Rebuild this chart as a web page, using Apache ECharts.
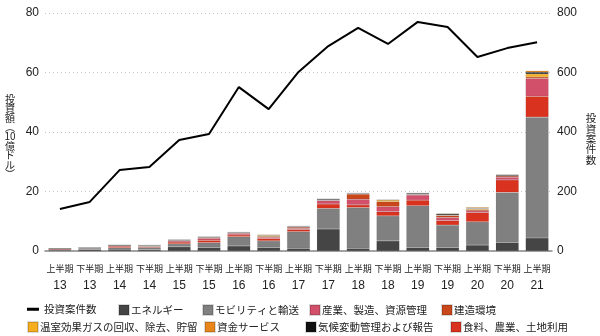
<!DOCTYPE html>
<html><head><meta charset="utf-8">
<script src="https://cdn.jsdelivr.net/npm/echarts@6/dist/echarts.min.js"></script>
<style>html,body{margin:0;padding:0;background:#fff}#c{width:600px;height:336px}</style>
</head><body><div id="c"></div>
<script>
const halves = ['上半期','下半期','上半期','下半期','上半期','下半期','上半期','下半期','上半期','下半期','上半期','下半期','上半期','下半期','上半期','下半期','上半期'];
const years = ['13','13','14','14','15','15','16','16','17','17','18','18','19','19','20','20','21'];
const dealCount = [141,165,272,282,373,393,551,477,602,689,750,696,770,753,652,682,702];
const energy =     [0.2,0.5,0.6,0.4,1.4,1.2,1.7,1.2,0.9,7.4,0.9,3.4,1.2,1.2,2.0,2.8,4.4];
const mobility =   [0.1,0.1,0.5,0.7,1.0,1.6,3.1,2.2,5.6,6.9,13.7,8.4,14.0,7.5,7.8,16.9,40.6];
const food =       [0.3,0.2,0.5,0.3,0.6,0.8,0.6,0.8,0.7,1.5,0.9,1.4,1.9,1.5,3.1,4.2,7.0];
const industry =   [0.1,0.1,0.2,0.2,0.4,0.6,0.5,0.4,0.4,1.1,1.9,1.7,1.7,1.1,0.6,0.9,6.0];
const building =   [0.05,0.1,0.1,0.1,0.2,0.3,0.2,0.3,0.4,0.2,1.7,1.7,0.2,0.6,0.4,0.4,0.5];
const greenhouse = [0.05,0.1,0.05,0.2,0.1,0.1,0.1,0.3,0.1,0.1,0.1,0.5,0.1,0.2,0.3,0.1,1.0];
const climate =    [0,0,0,0,0.05,0.2,0.05,0.1,0.2,0.3,0.2,0.05,0.3,0.4,0.2,0.3,0.6];
const finance =    [0.05,0.05,0.05,0.1,0.05,0.1,0.1,0.2,0.1,0.1,0.1,0.1,0.1,0.2,0.3,0.2,0.5];
const leftTicks = [0,20,40,60,80];
const rightTicks = [0,200,400,600,800];
const leftTitle = ['投','資','額','︵','10','億','ド','ル','︶'];
const rightTitle = ['投','資','案','件','数'];

const names = {
  line:'投資案件数', energy:'エネルギー', mobility:'モビリティと輸送', industry:'産業、製造、資源管理',
  building:'建造環境', greenhouse:'温室効果ガスの回収、除去、貯留', finance:'資金サービス',
  climate:'気候変動管理および報告', food:'食料、農業、土地利用'
};
const colors = {
  energy:'#454545', mobility:'#808080', food:'#d9321f', industry:'#d2506a', building:'#c9471b',
  greenhouse:'#f7ae1e', finance:'#e8861c', climate:'#111111'
};
const FONT = 'Liberation Sans, "Noto Sans CJK JP", sans-serif';
const stackOrder = [
  ['energy',energy],['mobility',mobility],['food',food],['industry',industry],
  ['building',building],['greenhouse',greenhouse],['climate',climate],['finance',finance]
];
const series = stackOrder.map(([k,arr]) => ({
  name: names[k], type:'bar', stack:'total', yAxisIndex:0, barWidth:23,
  itemStyle:{color:colors[k], borderColor:'rgba(0,0,0,0.15)', borderWidth:0.5},
  data: arr
}));
series.push({
  name: names.line, type:'line', yAxisIndex:1, data: dealCount, symbol:'none',
  lineStyle:{color:'#000', width:2}, itemStyle:{color:'#000'}, z:5
});

const LT = {fontSize:10.5, color:'#222', fontFamily:'"Noto Sans CJK JP", sans-serif', padding:[0,0,0,-3]};
function sq(name, left, top){
  return {data:[{name, icon:'rect'}], left, top, itemWidth:10, itemHeight:10, itemGap:0,
    textStyle:LT, selectedMode:false};
}
const legends = [
  {data:[{name:names.line, icon:'rect'}], left:22, top:299, itemWidth:12, itemHeight:3,
   textStyle:Object.assign({}, LT, {padding:[0,0,0,0]}), selectedMode:false},
  sq(names.energy, 113, 299), sq(names.mobility, 197, 299), sq(names.industry, 304, 299), sq(names.building, 436, 299),
  sq(names.greenhouse, 22, 316), sq(names.finance, 199, 316), sq(names.climate, 300, 316), sq(names.food, 445, 316)
];

function vtitle(chars, cx, top, step, size){
  return chars.map((ch,i) => ({
    type:'text', x:cx, y:top + i*step, silent:true,
    style:{text:ch, fill:'#222', fontSize:size, fontFamily:'"Noto Sans CJK JP", sans-serif',
           textAlign:'center', textVerticalAlign:'top', align:'center', verticalAlign:'top'}
  }));
}

const chart = echarts.init(document.getElementById('c'), null, {renderer:'canvas'});
chart.setOption({
  animation:false,
  textStyle:{fontFamily:FONT},
  grid:{left:45, right:48, top:13, bottom:85},
  legend: legends,
  graphic: vtitle(leftTitle, 10, 94, 9.4, 10).concat(vtitle(rightTitle, 591, 113, 10.4, 10.5)),
  xAxis:{
    type:'category', data: halves.map((h,i)=>h+'\n'+years[i]),
    axisLine:{lineStyle:{color:'#888', width:1.5}}, axisTick:{show:false},
    axisLabel:{interval:0, color:'#222', margin:10,
      formatter: v => { const p=v.split('\n'); return '{a|'+p[0]+'}\n{b|'+p[1]+'}'; },
      rich:{a:{fontSize:9, lineHeight:17, fontFamily:FONT, color:'#222'}, b:{fontSize:12, lineHeight:16, fontFamily:FONT, color:'#222'}}}
  },
  yAxis:[
    {type:'value', min:leftTicks[0], max:leftTicks[leftTicks.length-1], interval:20,
     axisLabel:{fontSize:12, color:'#222', margin:6},
     axisLine:{show:false}, axisTick:{show:false},
     splitLine:{lineStyle:{type:[1,3], color:'#c4c4c4'}}},
    {type:'value', min:rightTicks[0], max:rightTicks[rightTicks.length-1], interval:200,
     axisLabel:{fontSize:12, color:'#222', margin:5},
     axisLine:{show:false}, axisTick:{show:false}, splitLine:{show:false}}
  ],
  series
});
</script></body></html>
